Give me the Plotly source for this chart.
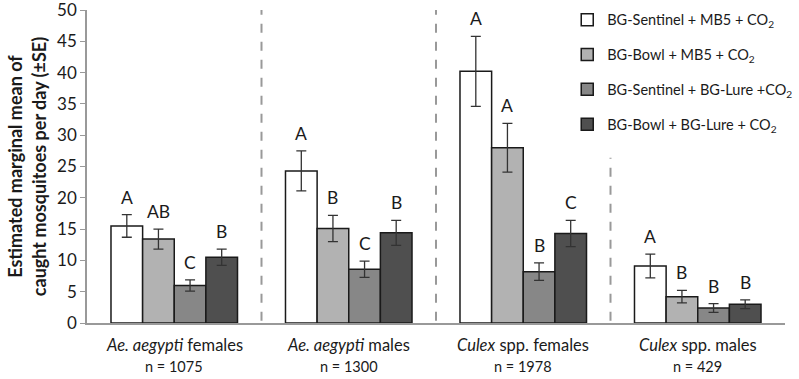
import plotly.graph_objects as go

groups = ["<i>Ae. aegypti</i> females", "<i>Ae. aegypti</i> males",
          "<i>Culex</i> spp. females", "<i>Culex</i> spp. males"]
n_labels = ["n = 1075", "n = 1300", "n = 1978", "n = 429"]

series_names = ["BG-Sentinel + MB5 + CO<sub>2</sub>",
                "BG-Bowl + MB5 + CO<sub>2</sub>",
                "BG-Sentinel + BG-Lure +CO<sub>2</sub>",
                "BG-Bowl + BG-Lure + CO<sub>2</sub>"]
sentinel_mb5 = [15.5, 24.3, 40.2, 9.1]
bowl_mb5 = [13.4, 15.1, 28.0, 4.2]
sentinel_lure = [6.0, 8.6, 8.2, 2.4]
bowl_lure = [10.5, 14.4, 14.3, 3.0]
se_sentinel_mb5 = [1.8, 3.2, 5.6, 1.9]
se_bowl_mb5 = [1.6, 2.1, 3.9, 1.0]
se_sentinel_lure = [0.9, 1.3, 1.4, 0.7]
se_bowl_lure = [1.3, 2.0, 2.1, 0.7]
letters_sentinel_mb5 = ["A", "A", "A", "A"]
letters_bowl_mb5 = ["AB", "B", "A", "B"]
letters_sentinel_lure = ["C", "C", "B", "B"]
letters_bowl_lure = ["B", "B", "C", "B"]

values = [sentinel_mb5, bowl_mb5, sentinel_lure, bowl_lure]
errors = [se_sentinel_mb5, se_bowl_mb5, se_sentinel_lure, se_bowl_lure]
letters = [letters_sentinel_mb5, letters_bowl_mb5, letters_sentinel_lure, letters_bowl_lure]
colors = ["#FFFFFF", "#B2B2B2", "#878787", "#4F4F4F"]

FONT = "Lato, 'Open Sans', sans-serif"
x = list(range(len(groups)))

fig = go.Figure()
for i in range(4):
    fig.add_trace(go.Bar(
        x=x, y=values[i], name=series_names[i],
        marker=dict(color=colors[i], line=dict(color="#1a1a1a", width=1.5)),
        error_y=dict(type="data", array=errors[i], color="#333333", thickness=1.3, width=5),
        legendgroup=str(i),
    ))

# letter annotations above error bars
bargap = 0.275
bw = (1 - bargap) / 4
for i in range(4):
    for j in range(4):
        xc = j - (1 - bargap) / 2 + bw * (i + 0.5)
        fig.add_annotation(x=xc, y=values[i][j] + errors[i][j], text=letters[i][j],
                           showarrow=False, yanchor="bottom", yshift=5,
                           font=dict(size=17.5, color="#1a1a1a", family=FONT))

# category labels
for j in range(4):
    fig.add_annotation(x=j, y=0, yref="y", text=groups[j], showarrow=False,
                       yanchor="top", yshift=-10, font=dict(size=16.5, color="#1a1a1a", family=FONT))
    fig.add_annotation(x=j, y=0, yref="y", text=n_labels[j], showarrow=False,
                       yanchor="top", yshift=-33, font=dict(size=14.5, color="#1a1a1a", family=FONT))

# dashed separators
sep_tops = [50, 50, 26.4]
for k, top in enumerate(sep_tops):
    fig.add_shape(type="line", x0=k + 0.5, x1=k + 0.5, y0=-2.5, y1=top, xref="x", yref="y",
                  line=dict(color="#999999", width=2, dash="dash"))

fig.update_layout(
    width=799, height=379,
    margin=dict(l=87, r=1, t=10, b=56),
    paper_bgcolor="white", plot_bgcolor="white",
    barmode="group", bargap=bargap, bargroupgap=0,
    font=dict(family=FONT, color="#1a1a1a"),
    showlegend=True,
    legend=dict(x=0.688, y=1.02, xanchor="left", yanchor="top",
                font=dict(size=14.5, family=FONT, color="#1a1a1a"),
                tracegroupgap=13, traceorder="grouped", bgcolor="rgba(0,0,0,0)"),
    xaxis=dict(range=[-0.5, 3.5], showticklabels=False, showline=True, linecolor="#999999",
               linewidth=1.5, ticks="", showgrid=False, zeroline=False, tickvals=x,
               automargin=False),
    yaxis=dict(range=[0, 50], dtick=5, showline=True, linecolor="#999999", linewidth=1.5,
               ticks="outside", ticklen=5, tickcolor="#999999", showgrid=False, zeroline=False,
               automargin=False, ticklabeloverflow="allow",
               tickfont=dict(size=17, family=FONT, color="#1a1a1a"),
               title=dict(text="<b>Estimated marginal mean of<br>caught mosquitoes per day (±SE)</b>",
                          font=dict(size=18, family=FONT, color="#1a1a1a"), standoff=6)),
)

fig.write_html("out.html", config={"displayModeBar": False},
               post_script="document.body.style.margin='0';document.body.style.overflow='hidden';")
